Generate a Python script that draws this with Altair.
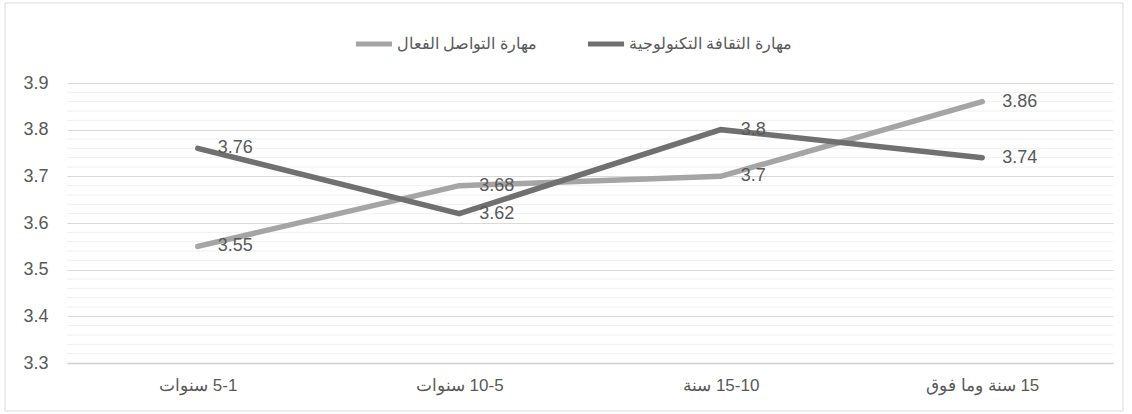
import altair as alt
import pandas as pd

RLI, PDI = "\u2067", "\u2069"
categories = ["5-1 سنوات", "10-5 سنوات", "15-10 سنة", "15 سنة وما فوق"]
series_names = ["مهارة التواصل الفعال", "مهارة الثقافة التكنولوجية"]
comm_values = [3.55, 3.68, 3.70, 3.86]
tech_values = [3.76, 3.62, 3.80, 3.74]
y_ticks = [3.3, 3.4, 3.5, 3.6, 3.7, 3.8, 3.9]
minor_ticks = [3.32, 3.34, 3.36, 3.38, 3.42, 3.44, 3.46, 3.48,
               3.52, 3.54, 3.56, 3.58, 3.62, 3.64, 3.66, 3.68,
               3.72, 3.74, 3.76, 3.78, 3.82, 3.84, 3.86, 3.88]

cats = [RLI + c + PDI for c in categories]
rows = []
for name, vals in zip(series_names, [comm_values, tech_values]):
    for c, v in zip(cats, vals):
        rows.append({"cat": c, "series": name, "value": v, "label": f"{v:g}"})
df = pd.DataFrame(rows)

TXT = "#595959"
FONT = "Liberation Sans"

y_scale = alt.Scale(domain=[3.3, 3.9], nice=False, zero=False)
y_axis = alt.Axis(values=y_ticks, format=".1f", title=None, domain=False, ticks=False,
                  gridColor="#d9d9d9", gridWidth=1.2, labelFontSize=18,
                  labelColor=TXT, labelPadding=19)
x_scale = alt.Scale(type="point", padding=0.5)
x_axis = alt.Axis(title=None, labelAngle=0, ticks=False, domain=True,
                  domainColor="#d0d0d0", domainWidth=1.5, grid=False,
                  labelFontSize=17, labelColor=TXT, labelPadding=14)

minor = alt.Chart(pd.DataFrame({"value": minor_ticks})).mark_rule(
    color="#f0f0f0", strokeWidth=1).encode(y=alt.Y("value:Q", scale=y_scale, axis=y_axis))

frame = alt.Chart(pd.DataFrame({"a": [0]})).mark_rect(
    filled=False, stroke="#d9d9d9", strokeWidth=1).encode(
    x=alt.value(-62), x2=alt.value(1056), y=alt.value(-80), y2=alt.value(328))

color = alt.Color("series:N", scale=alt.Scale(domain=series_names, range=["#a5a5a5", "#707070"]),
                  legend=alt.Legend(title=None, orient="none", legendX=286, legendY=-60,
                                    direction="horizontal", symbolType="stroke",
                                    symbolStrokeWidth=5, symbolSize=1300, columnPadding=40,
                                    labelFontSize=16, labelColor=TXT, labelLimit=500,
                                    labelOffset=2))

lines = alt.Chart(df).mark_line(strokeWidth=5.5, strokeCap="round", strokeJoin="miter").encode(
    x=alt.X("cat:N", sort=cats, scale=x_scale, axis=x_axis),
    y=alt.Y("value:Q", scale=y_scale, axis=y_axis),
    color=color,
    detail="series:N",
)

texts = alt.Chart(df).mark_text(align="left", baseline="middle", dx=20, fontSize=18,
                                color=TXT).encode(
    x=alt.X("cat:N", sort=cats, scale=x_scale, axis=x_axis),
    y=alt.Y("value:Q", scale=y_scale, axis=y_axis),
    text="label:N",
)

chart = alt.layer(frame, minor, lines, texts).properties(
    width=1046, height=280,
    autosize=alt.AutoSizeParams(type="none"),
    padding={"left": 67, "top": 83, "right": 19, "bottom": 51},
).configure(font=FONT, background="white").configure_view(strokeWidth=0)

chart.save("out.html", embed_options={"renderer": "svg", "actions": False})
